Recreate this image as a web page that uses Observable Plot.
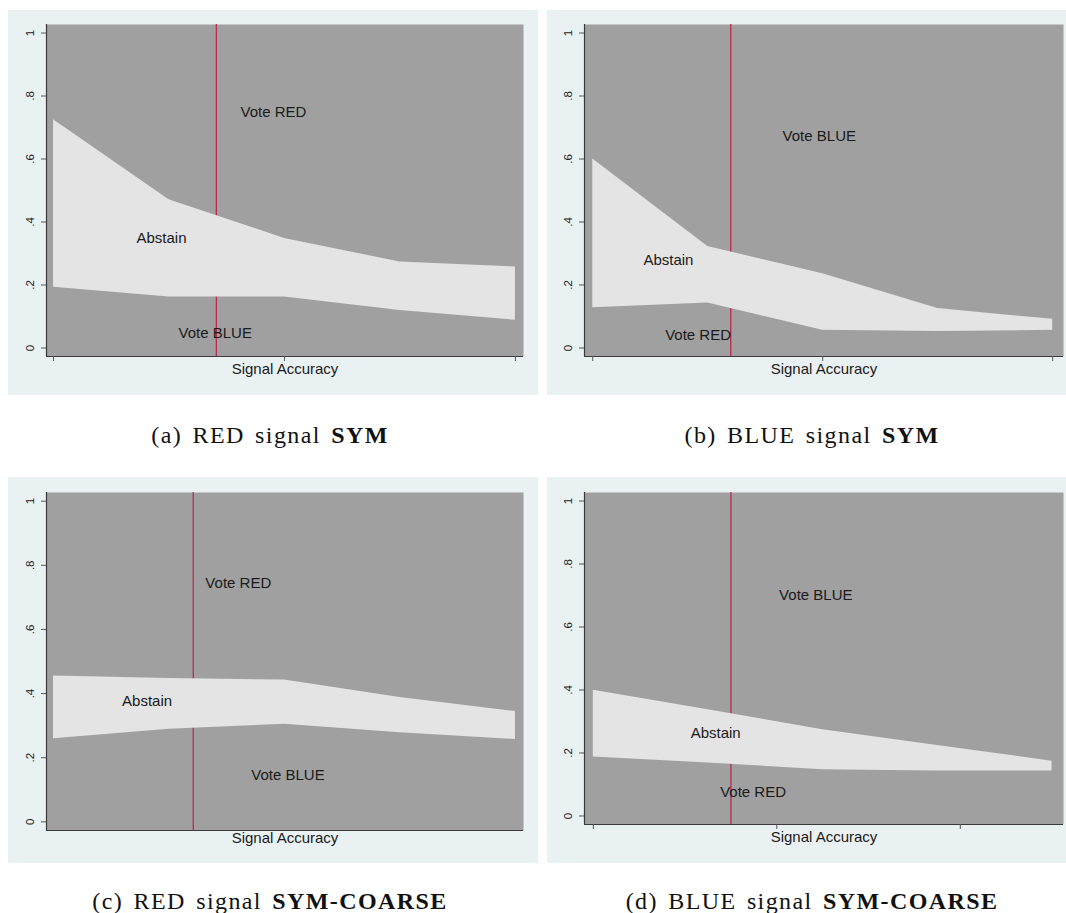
<!DOCTYPE html>
<html>
<head>
<meta charset="utf-8">
<script src="https://cdn.jsdelivr.net/npm/d3@7"></script>
<script src="https://cdn.jsdelivr.net/npm/@observablehq/plot@0.6"></script>
<style>
  html, body { margin: 0; padding: 0; background: #ffffff; }
  body { width: 1066px; height: 913px; position: relative; overflow: hidden; }
  .panel { position: absolute; }
  .panel svg { display: block; }
  .caption {
    position: absolute; width: 520px; text-align: center;
    font-family: "Liberation Serif", "Times New Roman", serif;
    font-size: 24px; letter-spacing: 1.4px; word-spacing: 3px; color: #111;
    line-height: 1;
  }
</style>
</head>
<body>
<div id="pa" class="panel" style="left:8px; top:10px;"></div>
<div id="pb" class="panel" style="left:547px; top:10px;"></div>
<div id="pc" class="panel" style="left:8px; top:477px;"></div>
<div id="pd" class="panel" style="left:547px; top:477px;"></div>
<div class="caption" style="left:10px; top:423px;">(a) RED signal <b>SYM</b></div>
<div class="caption" style="left:552px; top:423px;">(b) BLUE signal <b>SYM</b></div>
<div class="caption" style="left:10px; top:889px;">(c) RED signal <b>SYM-COARSE</b></div>
<div class="caption" style="left:552px; top:889px;">(d) BLUE signal <b>SYM-COARSE</b></div>
<script>
// ---- data ----
const accuracy = [0, 1, 2, 3, 4];           // signal accuracy levels (ordered)
const yTicks = [0, 0.2, 0.4, 0.6, 0.8, 1];
const yTickLabels = ["0", ".2", ".4", ".6", ".8", "1"];

// (a) RED signal SYM
const aUpper = [0.725, 0.471, 0.348, 0.273, 0.257];
const aLower = [0.193, 0.162, 0.162, 0.119, 0.088];
const aCutoff = 1.41;
const aXTicks = [0, 2, 4];
const aLabelText = ["Vote RED", "Abstain", "Vote BLUE"];
const aLabelX = [1.905, 0.935, 1.40];
const aLabelY = [0.748, 0.349, 0.048];

// (b) BLUE signal SYM
const bUpper = [0.600, 0.322, 0.236, 0.125, 0.091];
const bLower = [0.128, 0.143, 0.056, 0.052, 0.056];
const bCutoff = 1.20;
const bXTicks = [0, 2, 4];
const bLabelText = ["Vote BLUE", "Abstain", "Vote RED"];
const bLabelX = [1.97, 0.658, 0.916];
const bLabelY = [0.674, 0.280, 0.042];

// (c) RED signal SYM-COARSE
const cUpper = [0.455, 0.447, 0.442, 0.388, 0.344];
const cLower = [0.259, 0.289, 0.304, 0.278, 0.257];
const cCutoff = 1.21;
const cXTicks = [];
const cLabelText = ["Vote RED", "Abstain", "Vote BLUE"];
const cLabelX = [1.60, 0.81, 2.03];
const cLabelY = [0.744, 0.377, 0.145];

// (d) BLUE signal SYM-COARSE
const dUpper = [0.399, 0.337, 0.274, 0.224, 0.174];
const dLower = [0.187, 0.168, 0.147, 0.143, 0.143];
const dCutoff = 1.20;
const dXTicks = [0, 1.6, 3.2];
const dLabelText = ["Vote BLUE", "Abstain", "Vote RED"];
const dLabelX = [1.94, 1.067, 1.393];
const dLabelY = [0.701, 0.263, 0.075];

// ---- drawing ----
const yDomain = [-0.027, 1.027];
const FONT = "'Liberation Sans', Arial, sans-serif";

function panel(el, opts) {
  const {width, height, marginLeft, marginRight, marginTop, marginBottom,
         xDomain, xTicks, cutoff, upper, lower, labelText, labelX, labelY, titleDy} = opts;
  const rows = accuracy.map((x, i) => ({x, hi: upper[i], lo: lower[i]}));
  const labels = labelText.map((t, i) => ({t, x: labelX[i], y: labelY[i]}));
  const marks = [
    Plot.frame({fill: "#a0a0a0", stroke: null}),
    Plot.ruleX([cutoff], {stroke: "#bb2a52", strokeWidth: 1.3}),
    Plot.areaY(rows, {x: "x", y1: "lo", y2: "hi", fill: "#e4e4e4"}),
    Plot.ruleX([xDomain[0]], {stroke: "#3a3a3a", strokeWidth: 1.2}),
    Plot.ruleY([yDomain[0]], {stroke: "#3a3a3a", strokeWidth: 1.2}),
    Plot.axisY({ticks: yTicks, tickFormat: d => yTickLabels[yTicks.indexOf(d)],
                tickSize: 5, tickRotate: -90, tickPadding: 8, fontSize: 11.5,
                label: null, stroke: "#555", fill: "#222"}),
    Plot.text(["Signal Accuracy"], {frameAnchor: "bottom", text: d => d, dy: titleDy,
                fontSize: 15, fill: "#1a1a1a"}),
    Plot.text(labels, {x: "x", y: "y", text: "t", fontSize: 15, fill: "#1a1a1a"})
  ];
  if (xTicks.length) {
    marks.push(Plot.axisX({ticks: xTicks, tickSize: 5, tickFormat: () => "",
                           label: null, stroke: "#555"}));
  }
  const chart = Plot.plot({
    width, height, marginLeft, marginRight, marginTop, marginBottom,
    style: {background: "#eaf1f3", fontFamily: FONT, overflow: "visible"},
    x: {domain: xDomain, axis: xTicks.length ? undefined : null},
    y: {domain: yDomain},
    marks
  });
  document.getElementById(el).appendChild(chart);
}

panel("pa", {width: 530, height: 385, marginLeft: 38, marginRight: 15, marginTop: 14, marginBottom: 39,
  xDomain: [-0.061, 4.07], xTicks: aXTicks, cutoff: aCutoff, upper: aUpper, lower: aLower,
  labelText: aLabelText, labelX: aLabelX, labelY: aLabelY, titleDy: 17});
panel("pb", {width: 519, height: 385, marginLeft: 37, marginRight: 3, marginTop: 14, marginBottom: 39,
  xDomain: [-0.072, 4.094], xTicks: bXTicks, cutoff: bCutoff, upper: bUpper, lower: bLower,
  labelText: bLabelText, labelX: bLabelX, labelY: bLabelY, titleDy: 17});
panel("pc", {width: 530, height: 386, marginLeft: 38, marginRight: 15, marginTop: 15, marginBottom: 33,
  xDomain: [-0.061, 4.07], xTicks: cXTicks, cutoff: cCutoff, upper: cUpper, lower: cLower,
  labelText: cLabelText, labelX: cLabelX, labelY: cLabelY, titleDy: 12});
panel("pd", {width: 519, height: 386, marginLeft: 37, marginRight: 3, marginTop: 15, marginBottom: 39,
  xDomain: [-0.077, 4.1], xTicks: dXTicks, cutoff: dCutoff, upper: dUpper, lower: dLower,
  labelText: dLabelText, labelX: dLabelX, labelY: dLabelY, titleDy: 17});
</script>
</body>
</html>
